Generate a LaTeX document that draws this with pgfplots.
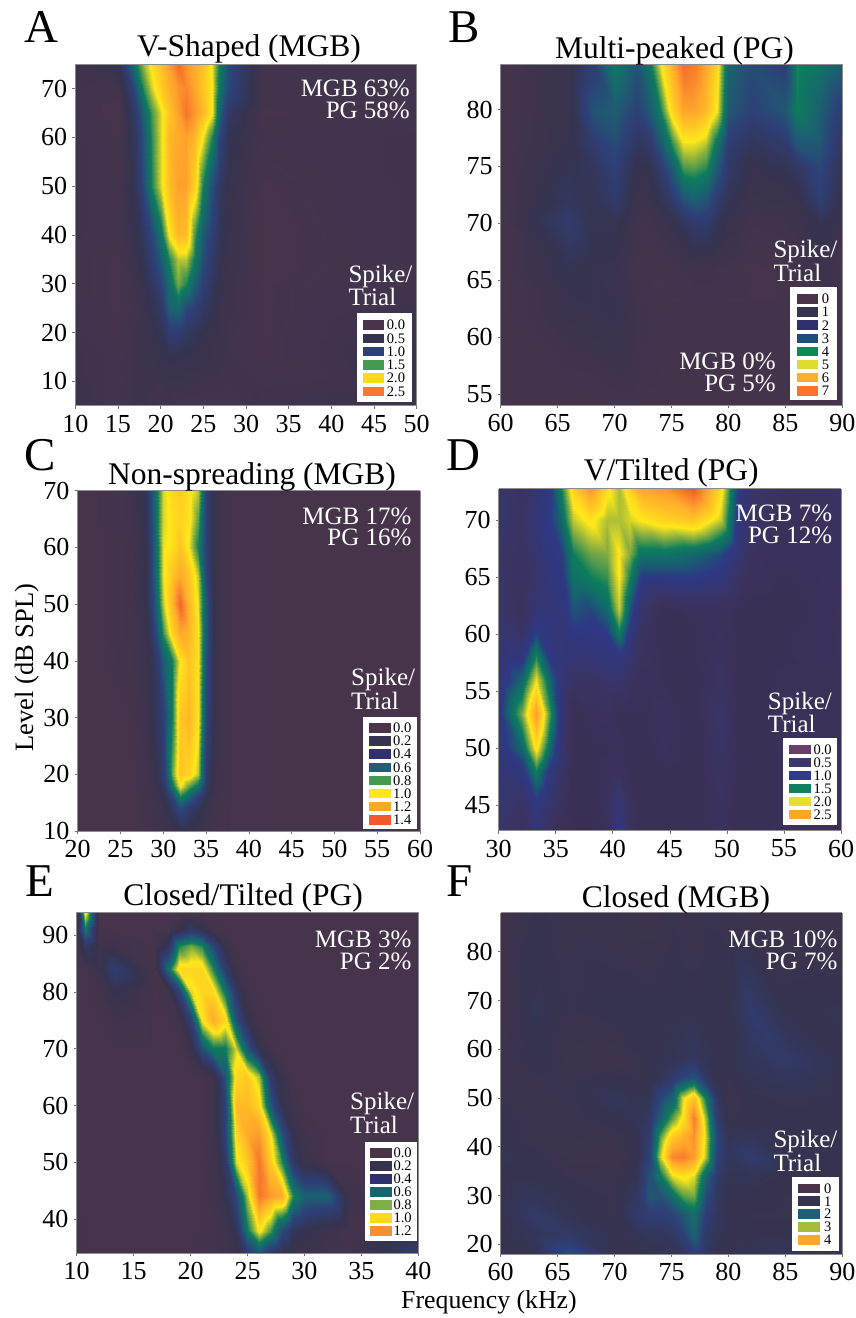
\documentclass[border=0pt]{standalone}
\usepackage{fontspec}
\setmainfont{Liberation Serif}
\usepackage{pgfplots}
\pgfplotsset{compat=1.18}
\definecolor{cP}{HTML}{4A344A}\definecolor{cD}{HTML}{35334F}\definecolor{cA}{HTML}{2C4272}
\definecolor{cG}{HTML}{459A52}\definecolor{cY}{HTML}{FFD91E}\definecolor{cR}{HTML}{F9772E}
\definecolor{bB}{HTML}{31306E}\definecolor{bT}{HTML}{1F4E78}\definecolor{bG}{HTML}{0B8C55}
\definecolor{bL}{HTML}{DEDC2E}\definecolor{bO}{HTML}{FFB02A}\definecolor{bR}{HTML}{F9732E}
\definecolor{dT}{HTML}{1F5E75}\definecolor{dY}{HTML}{FFE81A}\definecolor{dO}{HTML}{FFA62B}\definecolor{dR}{HTML}{F4592E}
\definecolor{eP}{HTML}{6A3D6C}\definecolor{eD}{HTML}{3B3768}\definecolor{eB}{HTML}{2F3A90}\definecolor{eG}{HTML}{0C8060}\definecolor{eL}{HTML}{E6E028}
\definecolor{fT}{HTML}{14656E}\definecolor{fL}{HTML}{7FAE45}\definecolor{fO}{HTML}{F98F2E}\definecolor{gL}{HTML}{A8BC3C}
\pgfplotsset{
 colormap={neuro}{rgb255(0pt)=(74,52,74) rgb255(14pt)=(53,51,79) rgb255(28pt)=(46,63,120) rgb255(40pt)=(26,98,112) rgb255(50pt)=(12,125,92) rgb255(60pt)=(140,178,60) rgb255(68pt)=(255,232,26) rgb255(84pt)=(255,166,43) rgb255(100pt)=(240,82,46)},
 colormap={neuroD}{rgb255(0pt)=(58,44,74) rgb255(17pt)=(58,52,100) rgb255(33pt)=(46,56,132) rgb255(42pt)=(20,100,110) rgb255(50pt)=(12,125,92) rgb255(60pt)=(150,180,60) rgb255(68pt)=(255,232,26) rgb255(84pt)=(255,166,43) rgb255(100pt)=(240,82,46)},
 panel/.style={scale only axis,width=#1,axis on top,view={0}{90},enlargelimits=false,colormap name=neuro,
  axis line style={black!45,line width=0.8pt},tick style={black!55,line width=0.7pt},tick align=outside,
  xtick pos=bottom,ytick pos=left,major tick length=3pt,
  /pgf/number format/assume math mode=true,
  x tick label style={font=\fontsize{26}{26}\selectfont,inner sep=0pt,yshift=-6pt},
  y tick label style={font=\fontsize{26}{26}\selectfont,inner sep=0pt,xshift=-5pt}},
 hm/.style={surf,shader=interp,mesh/cols=#1}}
\newcommand{\txt}[4]{\node[anchor=#2,inner sep=0pt,font=\fontsize{#1}{#1}\selectfont] at #3 {#4};}
% two-line white note: alignment, anchor, last-line position, text
\newcommand{\wtxt}[4]{\node[anchor=#2,align=#1,inner sep=0pt,text=white,font=\fontsize{25}{21.4}\selectfont] at #3 {#4};}
% box x0,y0,x1,y1 ; swatch x0,x1 ; first centre, step ; label x ; then colour/label list
\newcommand{\lgd}[9]{\fill[white] (#1pt,-#2pt) rectangle (#3pt,-#4pt);
 \def\sa{#5}\def\sb{#6}\def\cy{#7}\def\dy{#8}\def\lx{#9}\lgdb}
\newcommand{\lgdb}[1]{\foreach \cc/\ll [count=\i from 0] in {#1}{
  \pgfmathsetmacro\yc{\cy+\i*\dy}
  \fill[\cc] (\sa pt,-\yc pt-4.8pt) rectangle (\sb pt,-\yc pt+4.8pt);
  \node[anchor=west,inner sep=0pt,font=\fontsize{14.5}{14.5}\selectfont] at (\lx pt,-\yc pt) {\ll};}}
\begin{document}
\begin{tikzpicture}
\useasboundingbox (0,0) rectangle (856pt,-1318pt);
% A
\begin{axis}[panel=341.4pt,height=341.4pt,at={(75.3pt,-405.7pt)},anchor=south west,xmin=10,xmax=50,ymin=5,ymax=75,xtick={10,15,...,50},ytick={10,20,...,70},point meta min=0,point meta max=3]
\addplot3[hm=16] coordinates {
(10,5,.3)(15,5,.15)(17,5,.25)(18,5,.25)(19,5,.2)(20,5,.15)(21,5,.2)(22,5,.15)(23,5,.15)(24,5,.15)(25,5,.15)(26,5,.15)(27,5,.15)(28,5,.15)(32,5,.25)(50,5,.3)
(10,15,.25)(15,15,.15)(17,15,.25)(18,15,.3)(19,15,.3)(20,15,.35)(21,15,.4)(22,15,.4)(23,15,.35)(24,15,.35)(25,15,.3)(26,15,.3)(27,15,.25)(28,15,.2)(32,15,.1)(50,15,.35)
(10,20,.2)(15,20,.1)(17,20,.25)(18,20,.3)(19,20,.35)(20,20,.5)(21,20,.75)(22,20,.75)(23,20,.6)(24,20,.5)(25,20,.4)(26,20,.3)(27,20,.3)(28,20,.2)(32,20,.1)(50,20,.3)
(10,25,.2)(15,25,.1)(17,25,.2)(18,25,.3)(19,25,.45)(20,25,.65)(21,25,1.2)(22,25,1.3)(23,25,.95)(24,25,.8)(25,25,.6)(26,25,.45)(27,25,.3)(28,25,.25)(32,25,.1)(50,25,.25)
(10,30,.15)(15,30,.1)(17,30,.25)(18,30,.4)(19,30,.6)(20,30,.85)(21,30,1.3)(22,30,1.75)(23,30,1.55)(24,30,1.15)(25,30,.8)(26,30,.55)(27,30,.35)(28,30,.25)(32,30,.1)(50,30,.2)
(10,35,.15)(15,35,.1)(17,35,.35)(18,35,.5)(19,35,.8)(20,35,1.15)(21,35,1.55)(22,35,1.9)(23,35,1.9)(24,35,1.45)(25,35,1)(26,35,.7)(27,35,.4)(28,35,.3)(32,35,.08)(50,35,.2)
(10,40,.2)(15,40,.15)(17,40,.4)(18,40,.6)(19,40,.95)(20,40,1.4)(21,40,2.05)(22,40,2.4)(23,40,2.35)(24,40,1.6)(25,40,1.1)(26,40,.8)(27,40,.5)(28,40,.3)(32,40,.08)(50,40,.2)
(10,50,.2)(15,50,.15)(17,50,.5)(18,50,1)(19,50,1.55)(20,50,1.98)(21,50,2.35)(22,50,2.55)(23,50,2.55)(24,50,2.2)(25,50,1.5)(26,50,1)(27,50,.6)(28,50,.35)(32,50,.1)(50,50,.2)
(10,60,.2)(15,60,.1)(17,60,.6)(18,60,1.1)(19,60,1.6)(20,60,1.98)(21,60,2.4)(22,60,2.5)(23,60,2.55)(24,60,2.4)(25,60,2.02)(26,60,1.55)(27,60,.85)(28,60,.45)(32,60,.15)(50,60,.2)
(10,65,.2)(15,65,.05)(17,65,.7)(18,65,1.25)(19,65,1.65)(20,65,1.98)(21,65,2.3)(22,65,2.55)(23,65,2.8)(24,65,2.6)(25,65,2.4)(26,65,2.05)(27,65,1.15)(28,65,.6)(32,65,.1)(50,65,.15)
(10,70,.2)(15,70,.15)(17,70,1)(18,70,1.6)(19,70,1.95)(20,70,2.25)(21,70,2.45)(22,70,2.6)(23,70,2.7)(24,70,2.5)(25,70,2.3)(26,70,2.05)(27,70,1.35)(28,70,.9)(32,70,.15)(50,70,.15)
(10,75,.25)(15,75,.4)(17,75,1.45)(18,75,1.85)(19,75,2.1)(20,75,2.3)(21,75,2.55)(22,75,2.85)(23,75,2.6)(24,75,2.45)(25,75,2.3)(26,75,2)(27,75,1.45)(28,75,.95)(32,75,.2)(50,75,.15)
};
\end{axis}
% B
\begin{axis}[panel=341.6pt,height=341pt,at={(500.7pt,-405.3pt)},anchor=south west,xmin=60,xmax=90,ymin=54,ymax=84,xtick={60,65,...,90},ytick={55,60,...,80},point meta min=0,point meta max=7.8]
\addplot3[hm=18] coordinates {
(60,54,.3)(66,54,.3)(68,54,.3)(70,54,.4)(72,54,.4)(73,54,.3)(74,54,.3)(75,54,.3)(76,54,.3)(77,54,.3)(78,54,.3)(79,54,.3)(80,54,.3)(82,54,.3)(85,54,.3)(86,54,.3)(88,54,.3)(90,54,.3)
(60,62,.3)(66,62,.8)(68,62,.9)(70,62,1)(72,62,.6)(73,62,.5)(74,62,.4)(75,62,.3)(76,62,.3)(77,62,.3)(78,62,.3)(79,62,.3)(80,62,.3)(82,62,.3)(85,62,.3)(86,62,.3)(88,62,.5)(90,62,.4)
(60,66,.3)(66,66,1.2)(68,66,.95)(70,66,.9)(72,66,.35)(73,66,.3)(74,66,.3)(75,66,.4)(76,66,.5)(77,66,.6)(78,66,.6)(79,66,.5)(80,66,.4)(82,66,.25)(85,66,.3)(86,66,.35)(88,66,.8)(90,66,.4)
(60,70,.3)(66,70,1.9)(68,70,1.2)(70,70,1.2)(72,70,.5)(73,70,.5)(74,70,.7)(75,70,.9)(76,70,1.4)(77,70,1.8)(78,70,1.8)(79,70,1.3)(80,70,.9)(82,70,.5)(85,70,.6)(86,70,.7)(88,70,1.2)(90,70,.7)
(60,72,.3)(66,72,1.5)(68,72,1.2)(70,72,1.8)(72,72,.7)(73,72,.8)(74,72,1.2)(75,72,1.8)(76,72,2.6)(77,72,3)(78,72,2.7)(79,72,1.8)(80,72,1.2)(82,72,.7)(85,72,.8)(86,72,.9)(88,72,2)(90,72,1)
(60,75,.3)(66,75,1.2)(68,75,1.45)(70,75,2.2)(72,75,1)(73,75,1.1)(74,75,1.9)(75,75,3)(76,75,4.3)(77,75,4.4)(78,75,4.1)(79,75,2.9)(80,75,1.7)(82,75,.9)(85,75,1.3)(86,75,1.6)(88,75,2.4)(90,75,1.2)
(60,77,.3)(66,77,1)(68,77,1.9)(70,77,2.5)(72,77,1.5)(73,77,1.7)(74,77,2.8)(75,77,4.1)(76,77,5.2)(77,77,5.2)(78,77,4.9)(79,77,3.6)(80,77,2)(82,77,1.4)(85,77,1.8)(86,77,2.8)(88,77,2.8)(90,77,1.5)
(60,80,.3)(66,80,.9)(68,80,2.7)(70,80,3)(72,80,2.2)(73,80,2.9)(74,80,3.9)(75,80,5.7)(76,80,6.6)(77,80,6.6)(78,80,6.2)(79,80,5.3)(80,80,2.9)(82,80,2.2)(85,80,2.8)(86,80,3.9)(88,80,3)(90,80,2)
(60,84,.3)(66,84,.9)(68,84,2)(70,84,3.8)(72,84,2.7)(73,84,3.6)(74,84,5.2)(75,84,6.3)(76,84,7.4)(77,84,7.2)(78,84,6.5)(79,84,5.6)(80,84,3.2)(82,84,2.5)(85,84,2.1)(86,84,4)(88,84,3.6)(90,84,3)
};
\end{axis}
% C
\begin{axis}[panel=342.3pt,height=340.3pt,at={(77.7pt,-831pt)},anchor=south west,xmin=20,xmax=60,ymin=10,ymax=70,xtick={20,25,...,60},ytick={10,20,...,70},point meta min=0,point meta max=1.5]
\addplot3[hm=13] coordinates {
(20,10,.03)(26,10,.03)(28,10,.08)(29,10,.1)(30,10,.1)(31,10,.15)(32,10,.2)(33,10,.15)(34,10,.12)(35,10,.1)(36,10,.08)(38,10,.05)(60,10,.03)
(20,14,.03)(26,14,.03)(28,14,.08)(29,14,.1)(30,14,.15)(31,14,.3)(32,14,.5)(33,14,.35)(34,14,.25)(35,14,.15)(36,14,.08)(38,14,.05)(60,14,.03)
(20,16,.03)(26,16,.03)(28,16,.08)(29,16,.12)(30,16,.2)(31,16,.45)(32,16,.75)(33,16,.6)(34,16,.4)(35,16,.2)(36,16,.1)(38,16,.05)(60,16,.03)
(20,18,.03)(26,18,.03)(28,18,.1)(29,18,.15)(30,18,.3)(31,18,.7)(32,18,1.03)(33,18,.85)(34,18,.7)(35,18,.3)(36,18,.12)(38,18,.05)(60,18,.03)
(20,20,.03)(26,20,.03)(28,20,.1)(29,20,.2)(30,20,.35)(31,20,.85)(32,20,1.15)(33,20,1.1)(34,20,.95)(35,20,.35)(36,20,.12)(38,20,.05)(60,20,.03)
(20,30,.03)(26,30,.05)(28,30,.12)(29,30,.25)(30,30,.4)(31,30,.75)(32,30,1.15)(33,30,1.2)(34,30,1.05)(35,30,.45)(36,30,.15)(38,30,.05)(60,30,.03)
(20,40,.03)(26,40,.08)(28,40,.15)(29,40,.3)(30,40,.55)(31,40,.75)(32,40,1.03)(33,40,1.15)(34,40,1.05)(35,40,.5)(36,40,.15)(38,40,.05)(60,40,.03)
(20,45,.03)(26,45,.07)(28,45,.15)(29,45,.45)(30,45,.8)(31,45,1.1)(32,45,1.25)(33,45,1.2)(34,45,1.05)(35,45,.55)(36,45,.15)(38,45,.05)(60,45,.03)
(20,50,.03)(26,50,.07)(28,50,.2)(29,50,.55)(30,50,.95)(31,50,1.2)(32,50,1.45)(33,50,1.2)(34,50,1)(35,50,.55)(36,50,.15)(38,50,.05)(60,50,.03)
(20,55,.03)(26,55,.07)(28,55,.2)(29,55,.6)(30,55,1)(31,55,1.15)(32,55,1.25)(33,55,1.15)(34,55,.95)(35,55,.45)(36,55,.15)(38,55,.05)(60,55,.03)
(20,60,.03)(26,60,.07)(28,60,.2)(29,60,.6)(30,60,1)(31,60,1.05)(32,60,1.15)(33,60,1)(34,60,.75)(35,60,.4)(36,60,.15)(38,60,.05)(60,60,.03)
(20,65,.03)(26,65,.1)(28,65,.22)(29,65,.65)(30,65,.98)(31,65,1.05)(32,65,1.1)(33,65,1.05)(34,65,.85)(35,65,.4)(36,65,.15)(38,65,.05)(60,65,.03)
(20,70,.03)(26,70,.1)(28,70,.25)(29,70,.65)(30,70,.98)(31,70,1.08)(32,70,1.12)(33,70,1.05)(34,70,.95)(35,70,.4)(36,70,.15)(38,70,.05)(60,70,.03)
};
\end{axis}
% D
\begin{axis}[panel=342.3pt,height=342pt,at={(498.7pt,-830.7pt)},anchor=south west,xmin=30,xmax=60,ymin=42.75,ymax=72.75,xtick={30,35,...,60},ytick={45,50,...,70},point meta min=0,point meta max=3,colormap name=neuroD]
\addplot3[hm=18] coordinates {
(30,42.75,.6)(32,42.75,.4)(33.25,42.75,.7)(34.5,42.75,.4)(35.5,42.75,.2)(36.5,42.75,.15)(38,42.75,.15)(39.5,42.75,.3)(40.5,42.75,.85)(41.5,42.75,.4)(42.5,42.75,.2)(44.5,42.75,.2)(47,42.75,.2)(49.5,42.75,.4)(51,42.75,.2)(52,42.75,.2)(55,42.75,.3)(60,42.75,.3)
(30,45,.7)(32,45,.5)(33.25,45,.9)(34.5,45,.6)(35.5,45,.4)(36.5,45,.2)(38,45,.2)(39.5,45,.4)(40.5,45,.8)(41.5,45,.4)(42.5,45,.2)(44.5,45,.2)(47,45,.2)(49.5,45,.4)(51,45,.2)(52,45,.2)(55,45,.3)(60,45,.3)
(30,48,.8)(32,48,.9)(33.25,48,1.5)(34.5,48,.9)(35.5,48,.55)(36.5,48,.2)(38,48,.2)(39.5,48,.3)(40.5,48,.4)(41.5,48,.25)(42.5,48,.2)(44.5,48,.25)(47,48,.2)(49.5,48,.5)(51,48,.25)(52,48,.2)(55,48,.3)(60,48,.3)
(30,50,.85)(32,50,1.3)(33.25,50,2.1)(34.5,50,1.3)(35.5,50,.7)(36.5,50,.2)(38,50,.25)(39.5,50,.25)(40.5,50,.3)(41.5,50,.25)(42.5,50,.2)(44.5,50,.35)(47,50,.2)(49.5,50,.55)(51,50,.25)(52,50,.2)(55,50,.3)(60,50,.3)
(30,53,.95)(32,53,1.75)(33.25,53,2.6)(34.5,53,1.6)(35.5,53,.8)(36.5,53,.2)(38,53,.35)(39.5,53,.4)(40.5,53,.25)(41.5,53,.25)(42.5,53,.25)(44.5,53,.4)(47,53,.2)(49.5,53,.6)(51,53,.25)(52,53,.2)(55,53,.3)(60,53,.3)
(30,56,.8)(32,56,1.3)(33.25,56,2)(34.5,56,1.3)(35.5,56,.8)(36.5,56,.5)(38,56,.45)(39.5,56,.6)(40.5,56,.6)(41.5,56,.45)(42.5,56,.3)(44.5,56,.25)(47,56,.2)(49.5,56,.45)(51,56,.25)(52,56,.2)(55,56,.3)(60,56,.3)
(30,58,.75)(32,58,.9)(33.25,58,1.55)(34.5,58,.95)(35.5,58,.8)(36.5,58,.75)(38,58,.75)(39.5,58,.85)(40.5,58,.9)(41.5,58,.65)(42.5,58,.4)(44.5,58,.25)(47,58,.25)(49.5,58,.4)(51,58,.25)(52,58,.2)(55,58,.25)(60,58,.35)
(30,60,.7)(32,60,.55)(33.25,60,1.05)(34.5,60,.85)(35.5,60,.8)(36.5,60,.95)(38,60,.9)(39.5,60,1)(40.5,60,1.45)(41.5,60,.85)(42.5,60,.45)(44.5,60,.2)(47,60,.25)(49.5,60,.35)(51,60,.25)(52,60,.2)(55,60,.25)(60,60,.35)
(30,62,.6)(32,62,.35)(33.25,62,.8)(34.5,62,.8)(35.5,62,.8)(36.5,62,1.15)(38,62,1.05)(39.5,62,1.3)(40.5,62,1.9)(41.5,62,1.15)(42.5,62,.6)(44.5,62,.2)(47,62,.3)(49.5,62,.3)(51,62,.25)(52,62,.2)(55,62,.2)(60,62,.35)
(30,65,.6)(32,65,.4)(33.25,65,.6)(34.5,65,.85)(35.5,65,.9)(36.5,65,1.4)(38,65,1.5)(39.5,65,1.6)(40.5,65,2.05)(41.5,65,1.5)(42.5,65,1)(44.5,65,1)(47,65,1)(49.5,65,.85)(51,65,.5)(52,65,.35)(55,65,.25)(60,65,.4)
(30,67,.55)(32,67,.45)(33.25,67,.7)(34.5,67,.9)(35.5,67,1)(36.5,67,1.5)(38,67,1.7)(39.5,67,1.75)(40.5,67,2.05)(41.5,67,1.75)(42.5,67,1.4)(44.5,67,1.4)(47,67,1.3)(49.5,67,1.1)(51,67,.7)(52,67,.4)(55,67,.3)(60,67,.4)
(30,70,.6)(32,70,.5)(33.25,70,.8)(34.5,70,1)(35.5,70,1.3)(36.5,70,1.9)(38,70,2.1)(39.5,70,1.85)(40.5,70,1.85)(41.5,70,1.95)(42.5,70,2.05)(44.5,70,2.2)(47,70,2.3)(49.5,70,1.9)(51,70,.9)(52,70,.5)(55,70,.3)(60,70,.4)
(30,72.75,.6)(32,72.75,.4)(33.25,72.75,.7)(34.5,72.75,1)(35.5,72.75,1.5)(36.5,72.75,2.2)(38,72.75,2.6)(39.5,72.75,2.1)(40.5,72.75,1.85)(41.5,72.75,2.2)(42.5,72.75,2.5)(44.5,72.75,2.6)(47,72.75,2.95)(49.5,72.75,2.1)(51,72.75,1)(52,72.75,.6)(55,72.75,.4)(60,72.75,.5)
};
\end{axis}
% E
\begin{axis}[panel=341.6pt,height=341pt,at={(76.7pt,-1253.3pt)},anchor=south west,xmin=10,xmax=40,ymin=34,ymax=94,xtick={10,15,...,40},ytick={40,50,...,90},point meta min=0,point meta max=1.45]
\addplot3[hm=21] coordinates {
(10,34,.08)(10.7,34,.05)(12,34,.05)(13.3,34,.05)(16.8,34,.05)(18,34,.05)(19,34,.05)(20,34,.05)(21,34,.08)(22,34,.08)(23,34,.1)(24,34,.15)(25,34,.35)(26,34,.5)(27,34,.3)(28,34,.2)(29,34,.15)(30,34,.12)(32,34,.08)(34,34,.08)(40,34,.35)
(10,38,.08)(10.7,38,.05)(12,38,.05)(13.3,38,.05)(16.8,38,.05)(18,38,.05)(19,38,.05)(20,38,.05)(21,38,.05)(22,38,.08)(23,38,.1)(24,38,.25)(25,38,.7)(26,38,1)(27,38,.8)(28,38,.45)(29,38,.25)(30,38,.2)(32,38,.12)(34,38,.05)(40,38,.15)
(10,44,.05)(10.7,44,.05)(12,44,.05)(13.3,44,.05)(16.8,44,.05)(18,44,.05)(19,44,.05)(20,44,.05)(21,44,.05)(22,44,.1)(23,44,.2)(24,44,.45)(25,44,.9)(26,44,1.35)(27,44,1.25)(28,44,1.2)(29,44,.75)(30,44,.58)(32,44,.58)(34,44,.12)(40,44,.05)
(10,50,.05)(10.7,50,.05)(12,50,.05)(13.3,50,.05)(16.8,50,.05)(18,50,.05)(19,50,.05)(20,50,.05)(21,50,.05)(22,50,.1)(23,50,.3)(24,50,.95)(25,50,1.1)(26,50,1.35)(27,50,1.1)(28,50,.75)(29,50,.3)(30,50,.15)(32,50,.05)(34,50,.05)(40,50,.05)
(10,55,.05)(10.7,55,.05)(12,55,.05)(13.3,55,.05)(16.8,55,.05)(18,55,.05)(19,55,.05)(20,55,.05)(21,55,.05)(22,55,.1)(23,55,.4)(24,55,1.05)(25,55,1.2)(26,55,1.25)(27,55,1)(28,55,.5)(29,55,.2)(30,55,.1)(32,55,.05)(34,55,.05)(40,55,.05)
(10,60,.05)(10.7,60,.05)(12,60,.05)(13.3,60,.05)(16.8,60,.05)(18,60,.05)(19,60,.05)(20,60,.05)(21,60,.05)(22,60,.1)(23,60,.4)(24,60,1.15)(25,60,1.15)(26,60,1.05)(27,60,.55)(28,60,.2)(29,60,.1)(30,60,.05)(32,60,.05)(34,60,.05)(40,60,.05)
(10,65,.05)(10.7,65,.05)(12,65,.05)(13.3,65,.05)(16.8,65,.05)(18,65,.05)(19,65,.05)(20,65,.05)(21,65,.05)(22,65,.1)(23,65,.5)(24,65,1.05)(25,65,1.1)(26,65,.9)(27,65,.35)(28,65,.15)(29,65,.05)(30,65,.05)(32,65,.05)(34,65,.05)(40,65,.05)
(10,70,.05)(10.7,70,.05)(12,70,.05)(13.3,70,.05)(16.8,70,.05)(18,70,.05)(19,70,.05)(20,70,.15)(21,70,.5)(22,70,.7)(23,70,.7)(24,70,.95)(25,70,.55)(26,70,.2)(27,70,.1)(28,70,.05)(29,70,.05)(30,70,.05)(32,70,.05)(34,70,.05)(40,70,.05)
(10,75,.05)(10.7,75,.05)(12,75,.05)(13.3,75,.1)(16.8,75,.05)(18,75,.05)(19,75,.1)(20,75,.4)(21,75,1)(22,75,1.2)(23,75,1.05)(24,75,.5)(25,75,.2)(26,75,.08)(27,75,.05)(28,75,.05)(29,75,.05)(30,75,.05)(32,75,.05)(34,75,.05)(40,75,.05)
(10,80,.05)(10.7,80,.05)(12,80,.08)(13.3,80,.2)(16.8,80,.05)(18,80,.08)(19,80,.4)(20,80,.95)(21,80,1.05)(22,80,1.05)(23,80,.7)(24,80,.3)(25,80,.1)(26,80,.05)(27,80,.05)(28,80,.05)(29,80,.05)(30,80,.05)(32,80,.05)(34,80,.05)(40,80,.05)
(10,84,.05)(10.7,84,.05)(12,84,.15)(13.3,84,.38)(16.8,84,.05)(18,84,.65)(19,84,1.05)(20,84,1.05)(21,84,1.05)(22,84,.75)(23,84,.35)(24,84,.12)(25,84,.05)(26,84,.05)(27,84,.05)(28,84,.05)(29,84,.05)(30,84,.05)(32,84,.05)(34,84,.05)(40,84,.05)
(10,88,.1)(10.7,88,.3)(12,88,.1)(13.3,88,.12)(16.8,88,.05)(18,88,.25)(19,88,.75)(20,88,.85)(21,88,.75)(22,88,.45)(23,88,.15)(24,88,.05)(25,88,.05)(26,88,.05)(27,88,.05)(28,88,.05)(29,88,.05)(30,88,.05)(32,88,.05)(34,88,.05)(40,88,.05)
(10,91,.15)(10.7,91,.7)(12,91,.05)(13.3,91,.05)(16.8,91,.05)(18,91,.05)(19,91,.15)(20,91,.3)(21,91,.2)(22,91,.08)(23,91,.05)(24,91,.05)(25,91,.05)(26,91,.05)(27,91,.05)(28,91,.05)(29,91,.05)(30,91,.05)(32,91,.05)(34,91,.05)(40,91,.05)
(10,94,.1)(10.7,94,1.05)(12,94,.05)(13.3,94,.05)(16.8,94,.05)(18,94,.05)(19,94,.05)(20,94,.05)(21,94,.05)(22,94,.05)(23,94,.05)(24,94,.05)(25,94,.05)(26,94,.05)(27,94,.05)(28,94,.05)(29,94,.05)(30,94,.05)(32,94,.05)(34,94,.05)(40,94,.05)
};
\end{axis}
% F
\begin{axis}[panel=341.6pt,height=341.3pt,at={(500.7pt,-1254pt)},anchor=south west,xmin=60,xmax=90,ymin=18,ymax=88,xtick={60,65,...,90},ytick={20,30,...,80},point meta min=0,point meta max=5]
\addplot3[hm=16] coordinates {
(60,18,.7)(63,18,.7)(66,18,1.7)(70,18,.7)(72,18,.7)(73,18,.7)(74,18,.7)(75,18,.8)(76,18,.9)(77,18,1.3)(78,18,.9)(79,18,.7)(80,18,.7)(82,18,.8)(85,18,.9)(90,18,.8)
(60,22,.7)(63,22,.9)(66,22,1.1)(70,22,.7)(72,22,.8)(73,22,.9)(74,22,.9)(75,22,1)(76,22,1.4)(77,22,2)(78,22,1.1)(79,22,.8)(80,22,.7)(82,22,.7)(85,22,.7)(90,22,.7)
(60,26,.7)(63,26,1.1)(66,26,.8)(70,26,.6)(72,26,1.2)(73,26,1.3)(74,26,1.3)(75,26,1.4)(76,26,1.8)(77,26,2.2)(78,26,1.3)(79,26,.9)(80,26,.7)(82,26,.6)(85,26,.6)(90,26,.7)
(60,30,.7)(63,30,.9)(66,30,.7)(70,30,.6)(72,30,1)(73,30,1.8)(74,30,1.7)(75,30,2.2)(76,30,2.8)(77,30,2.9)(78,30,1.6)(79,30,1)(80,30,.7)(82,30,.7)(85,30,.6)(90,30,.7)
(60,34,.7)(63,34,.7)(66,34,.6)(70,34,.55)(72,34,.8)(73,34,1.7)(74,34,2.4)(75,34,3.3)(76,34,3.5)(77,34,3.3)(78,34,2)(79,34,1.1)(80,34,.8)(82,34,.8)(85,34,.7)(90,34,.7)
(60,38,.75)(63,38,.7)(66,38,.45)(70,38,.4)(72,38,.7)(73,38,1.4)(74,38,3.2)(75,38,4.5)(76,38,4.6)(77,38,4.3)(78,38,3.1)(79,38,1.4)(80,38,.9)(82,38,1.25)(85,38,.7)(90,38,.7)
(60,42,.7)(63,42,.5)(66,42,.5)(70,42,.55)(72,42,.7)(73,42,1.2)(74,42,2.8)(75,42,3.8)(76,42,4.1)(77,42,4.4)(78,42,3.2)(79,42,1.5)(80,42,.8)(82,42,.9)(85,42,.7)(90,42,.7)
(60,46,.7)(63,46,.5)(66,46,.55)(70,46,.7)(72,46,.8)(73,46,1)(74,46,1.9)(75,46,2.8)(76,46,3.5)(77,46,4.6)(78,46,3)(79,46,1.2)(80,46,.6)(82,46,.7)(85,46,.7)(90,46,.7)
(60,50,.6)(63,50,.5)(66,50,.6)(70,50,.9)(72,50,.75)(73,50,.8)(74,50,1.5)(75,50,2)(76,50,3.3)(77,50,3.9)(78,50,2.4)(79,50,1)(80,50,.5)(82,50,.7)(85,50,.75)(90,50,.7)
(60,54,.5)(63,54,.6)(66,54,.55)(70,54,.7)(72,54,.6)(73,54,.7)(74,54,.8)(75,54,1.1)(76,54,1.5)(77,54,1.8)(78,54,1)(79,54,.7)(80,54,.6)(82,54,.8)(85,54,.9)(90,54,.7)
(60,58,.5)(63,58,.7)(66,58,.45)(70,58,.4)(72,58,.6)(73,58,.7)(74,58,.7)(75,58,.8)(76,58,.9)(77,58,1)(78,58,.8)(79,58,.7)(80,58,.7)(82,58,.9)(85,58,1.1)(90,58,.7)
(60,68,.4)(63,68,.8)(66,68,.6)(70,68,.7)(72,68,.7)(73,68,.7)(74,68,.7)(75,68,.7)(76,68,.7)(77,68,.7)(78,68,.7)(79,68,.7)(80,68,.7)(82,68,1.2)(85,68,.7)(90,68,.75)
(60,88,.4)(63,88,.65)(66,88,.55)(70,88,.5)(72,88,.4)(73,88,.4)(74,88,.5)(75,88,.6)(76,88,.5)(77,88,.5)(78,88,.6)(79,88,.6)(80,88,.5)(82,88,.4)(85,88,.4)(90,88,.4)
};
\end{axis}
% panel letters
\txt{47}{base west}{(24pt,-42.7pt)}{A}
\txt{47}{base west}{(448pt,-42.7pt)}{B}
\txt{47}{base west}{(24pt,-470.7pt)}{C}
\txt{47}{base west}{(446pt,-470.7pt)}{D}
\txt{47}{base west}{(25pt,-896.7pt)}{E}
\txt{47}{base west}{(446.7pt,-896.7pt)}{F}
% titles
\txt{31.5}{base}{(249pt,-56pt)}{V-Shaped (MGB)}
\txt{31.5}{base}{(674.5pt,-58pt)}{Multi-peaked (PG)}
\txt{31.5}{base}{(252pt,-484.3pt)}{Non-spreading (MGB)}
\txt{31.5}{base}{(671.3pt,-480pt)}{V/Tilted (PG)}
\txt{31.5}{base}{(243pt,-905pt)}{Closed/Tilted (PG)}
\txt{31.5}{base}{(676pt,-907.7pt)}{Closed (MGB)}
% shared labels
\node[anchor=base,rotate=90,inner sep=0pt,font=\fontsize{26.5}{26.5}\selectfont] at (33pt,-667.5pt) {Level (dB SPL)};
\txt{25.8}{base}{(489pt,-1308pt)}{Frequency (kHz)}
% annotations (position = baseline of last line)
\wtxt{right}{base east}{(410pt,-118pt)}{MGB 63\%\\PG 58\%}
\wtxt{left}{base west}{(348.3pt,-305.7pt)}{Spike/\\Trial}
\wtxt{right}{base east}{(776pt,-391pt)}{MGB 0\%\\PG 5\%}
\wtxt{left}{base west}{(773.3pt,-281pt)}{Spike/\\Trial}
\wtxt{right}{base east}{(411.7pt,-545.7pt)}{MGB 17\%\\PG 16\%}
\wtxt{left}{base west}{(351pt,-709.3pt)}{Spike/\\Trial}
\wtxt{right}{base east}{(832.3pt,-543.3pt)}{MGB 7\%\\PG 12\%}
\wtxt{left}{base west}{(767.7pt,-732.7pt)}{Spike/\\Trial}
\wtxt{right}{base east}{(411.7pt,-969.3pt)}{MGB 3\%\\PG 2\%}
\wtxt{left}{base west}{(350pt,-1133.3pt)}{Spike/\\Trial}
\wtxt{right}{base east}{(837.7pt,-969.3pt)}{MGB 10\%\\PG 7\%}
\wtxt{left}{base west}{(773.3pt,-1171pt)}{Spike/\\Trial}
% colour keys
\lgd{356.7}{313.3}{411.7}{401.7}{363.3}{384}{325}{13.3}{386.7}{cP/0.0,cD/0.5,cA/1.0,cG/1.5,cY/2.0,cR/2.5}
\lgd{790}{286.7}{837.3}{400}{796.7}{818.3}{299}{13.1}{821.7}{cP/0,cD/1,bB/2,bT/3,bG/4,bL/5,bO/6,bR/7}
\lgd{363.3}{716.7}{417.3}{829.3}{369.3}{390.7}{728}{13.1}{393}{cP/0.0,cD/0.2,bB/0.4,dT/0.6,cG/0.8,dY/1.0,dO/1.2,dR/1.4}
\lgd{783.3}{737.7}{837.3}{825}{789.3}{811}{749.3}{13.07}{813.3}{eP/0.0,eD/0.5,eB/1.0,eG/1.5,eL/2.0,dO/2.5}
\lgd{365}{1141.7}{416.7}{1241}{370}{391.7}{1152.7}{13.05}{393.3}{cP/0.0,cD/0.2,bB/0.4,fT/0.6,fL/0.8,cY/1.0,fO/1.2}
\lgd{792.3}{1177.3}{839}{1251}{798.3}{820}{1188.3}{12.9}{824}{cP/0,cD/1,dT/2,gL/3,dO/4}
\end{tikzpicture}
\end{document}
